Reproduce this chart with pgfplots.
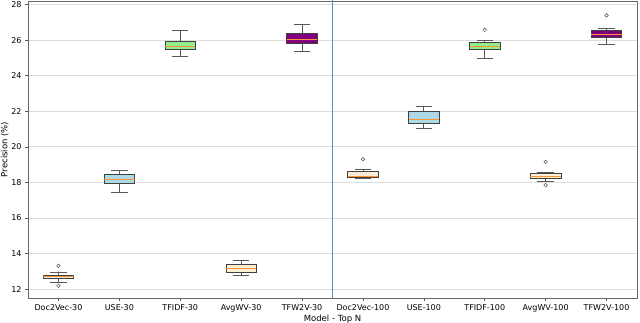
\documentclass[border=0pt]{standalone}
\usepackage{fontspec}
\setmainfont{DejaVu Sans}
\usepackage{pgfplots}
\pgfplotsset{compat=1.18}
\usepgfplotslibrary{statistics}
\definecolor{medc}{HTML}{FF7F0E}
\definecolor{cdoc}{HTML}{FAEBD7}
\definecolor{cuse}{HTML}{ADD8E6}
\definecolor{ctfidf}{HTML}{90EE90}
\definecolor{cavg}{HTML}{FFEFD5}
\definecolor{ctfw}{HTML}{800080}
\definecolor{gridc}{HTML}{DDDDDD}
\definecolor{sepc}{HTML}{5B8DC0}
\begin{document}
\begin{tikzpicture}
\begin{axis}[
  at={(0,0)}, anchor=south west,
  scale only axis, width=609pt, height=297pt,
  xmin=-0.5, xmax=9.5, ymin=11.5, ymax=28.2,
  xtick={0,...,9},
  xticklabels={Doc2Vec-30,USE-30,TFIDF-30,AvgWV-30,TFW2V-30,Doc2Vec-100,USE-100,TFIDF-100,AvgWV-100,TFW2V-100},
  ytick={12,14,...,28},
  ymajorgrids, grid style={gridc, line width=0.8pt},
  axis line style={gray!80!black, line width=0.6pt},
  tick align=outside, major tick length=3pt,
  tick style={gray!70!black, line width=0.5pt},
  xtick pos=bottom, ytick pos=left,
  ticklabel style={font=\fontsize{8}{10}\selectfont},
  /pgf/number format/assume math mode=true,
  label style={font=\fontsize{8.5}{10}\selectfont},
  ylabel={Precision (\%)},
  xlabel={Model - Top N},
  ylabel style={yshift=-4pt},
  xlabel style={yshift=4pt},
  clip=true,
  boxplot/draw direction=y,
  boxplot/every median/.style={draw=medc!85, line width=0.6pt, solid},
  boxplot/every whisker/.style={draw=gray!70!black, line width=0.7pt, solid},
  boxplot/every box/.style={draw=black!75, line width=0.7pt, solid},
  boxplot/box extend=0.5,
  boxplot/whisker extend=0.27,
  outl/.style={solid, mark=o, mark size=1.8pt, mark options={draw=gray!60!black, fill=none, line width=0.5pt, solid}},
]
\addplot[sepc, line width=0.8pt] coordinates {(4.5,10) (4.5,30)};
% Doc2Vec-30
\addplot[boxplot prepared={draw position=0, median=12.70, upper quartile=12.78, lower quartile=12.62, upper whisker=12.93, lower whisker=12.37}, fill=cdoc, draw=black!75, outl] table[row sep=\\, y index=0] {13.31\\12.19\\};
% USE-30
\addplot[boxplot prepared={draw position=1, median=18.20, upper quartile=18.48, lower quartile=17.96, upper whisker=18.65, lower whisker=17.43}, fill=cuse, draw=black!75, outl] coordinates {};
% TFIDF-30
\addplot[boxplot prepared={draw position=2, median=25.65, upper quartile=25.93, lower quartile=25.50, upper whisker=26.53, lower whisker=25.10}, fill=ctfidf, draw=black!75, outl] coordinates {};
% AvgWV-30
\addplot[boxplot prepared={draw position=3, median=13.16, upper quartile=13.40, lower quartile=12.95, upper whisker=13.63, lower whisker=12.76}, fill=cavg, draw=black!75, outl] coordinates {};
% TFW2V-30
\addplot[boxplot prepared={draw position=4, median=26.04, upper quartile=26.38, lower quartile=25.82, upper whisker=26.89, lower whisker=25.37}, fill=ctfw, draw=black!75, outl] coordinates {};
% Doc2Vec-100
\addplot[boxplot prepared={draw position=5, median=18.33, upper quartile=18.62, lower quartile=18.29, upper whisker=18.74, lower whisker=18.20}, fill=cdoc, draw=black!75, outl] table[row sep=\\, y index=0] {19.30\\};
% USE-100
\addplot[boxplot prepared={draw position=6, median=21.57, upper quartile=22.00, lower quartile=21.33, upper whisker=22.26, lower whisker=21.02}, fill=cuse, draw=black!75, outl] coordinates {};
% TFIDF-100
\addplot[boxplot prepared={draw position=7, median=25.65, upper quartile=25.88, lower quartile=25.48, upper whisker=25.99, lower whisker=24.96}, fill=ctfidf, draw=black!75, outl] table[row sep=\\, y index=0] {26.58\\};
% AvgWV-100
\addplot[boxplot prepared={draw position=8, median=18.37, upper quartile=18.52, lower quartile=18.24, upper whisker=18.57, lower whisker=18.07}, fill=cavg, draw=black!75, outl] table[row sep=\\, y index=0] {19.15\\17.84\\};
% TFW2V-100
\addplot[boxplot prepared={draw position=9, median=26.34, upper quartile=26.53, lower quartile=26.17, upper whisker=26.64, lower whisker=25.76}, fill=ctfw, draw=black!75, outl] table[row sep=\\, y index=0] {27.39\\};
\end{axis}
\pgfresetboundingbox
\path[use as bounding box] (-28pt,-25pt) rectangle (612pt,298pt);
\end{tikzpicture}
\end{document}
